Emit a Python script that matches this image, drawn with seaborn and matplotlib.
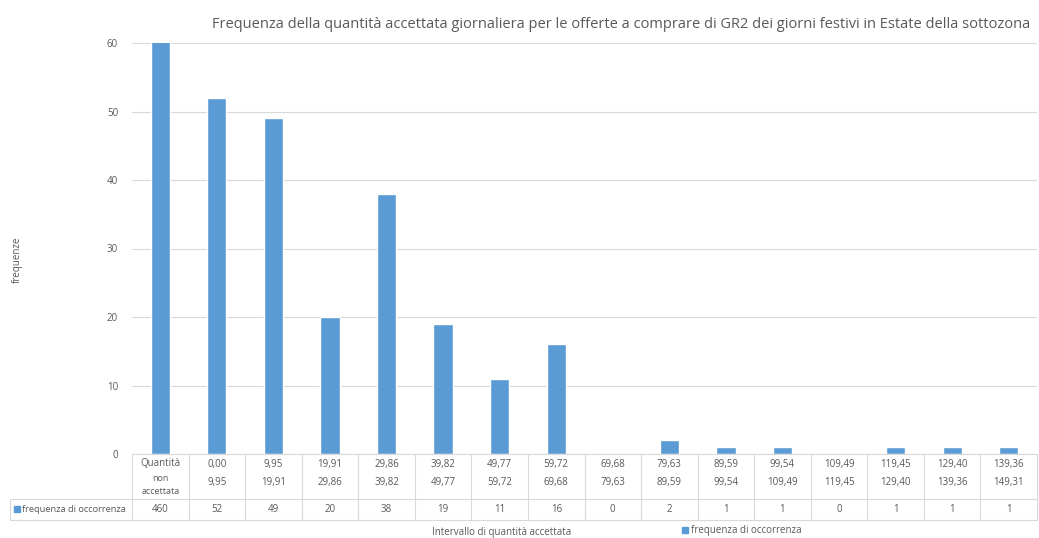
import matplotlib
matplotlib.use('Agg')
import matplotlib.pyplot as plt
import matplotlib.transforms as mtransforms
from matplotlib.patches import Patch
import seaborn as sns
import pandas as pd

# Dati
inizio = ['Quantità', '0,00', '9,95', '19,91', '29,86', '39,82', '49,77', '59,72',
          '69,68', '79,63', '89,59', '99,54', '109,49', '119,45', '129,40', '139,36']
fine = ['non\naccettata', '9,95', '19,91', '29,86', '39,82', '49,77', '59,72', '69,68',
        '79,63', '89,59', '99,54', '109,49', '119,45', '129,40', '139,36', '149,31']
frequenza = [460, 52, 49, 20, 38, 19, 11, 16, 0, 2, 1, 1, 0, 1, 1, 1]

df = pd.DataFrame({'intervallo': [f'{a}-{b}' for a, b in zip(inizio, fine)],
                   'frequenza': frequenza})

sns.set_style('white')
plt.rcParams['font.family'] = ['Open Sans', 'DejaVu Sans']

grigio = '#595959'
linea = '#D9D9D9'
blu = '#5B9BD5'

W, H = 1039, 538
fig = plt.figure(figsize=(W / 100, H / 100), dpi=100)
ax = fig.add_axes([132 / W, (H - 454) / H, (1037 - 132) / W, (454 - 43) / H])

sns.barplot(data=df, x='intervallo', y='frequenza', color=blu, width=0.34,
            saturation=1, ax=ax)
ax.set_ylim(0, 60)
ax.set_xlim(-0.5, len(frequenza) - 0.5)
ax.set_yticks(range(0, 61, 10))
ax.yaxis.grid(True, color=linea, lw=0.8)
ax.set_axisbelow(True)
for s in ['top', 'right', 'left']:
    ax.spines[s].set_visible(False)
ax.spines['bottom'].set_color(linea)
ax.set_xticks([])
ax.set_xlabel('')
ax.set_ylabel('')
ax.tick_params(axis='y', length=0, labelsize=7, labelcolor=grigio, pad=10)

# Tabella dati sotto il grafico
tr = mtransforms.blended_transform_factory(ax.transData, fig.transFigure)
def fy(p):
    return (H - p) / H

n = len(frequenza)
for i in range(n + 1):
    ax.plot([i - 0.5, i - 0.5], [fy(454), fy(520)], color=linea, lw=0.8,
            transform=tr, clip_on=False)
figtr = fig.transFigure
for yy in [499, 520]:
    fig.add_artist(plt.Line2D([10 / W, 1037 / W], [fy(yy), fy(yy)], color=linea, lw=0.8,
                              transform=figtr))
fig.add_artist(plt.Line2D([10 / W, 10 / W], [fy(499), fy(520)], color=linea, lw=0.8,
                          transform=figtr))

for i in range(n):
    if i == 0:
        ax.text(i, fy(464), inizio[i], transform=tr, ha='center', va='center',
                fontsize=7, color=grigio)
        ax.text(i, fy(485), fine[i], transform=tr, ha='center', va='center',
                fontsize=6.5, color=grigio, linespacing=1.6)
    else:
        ax.text(i, fy(464), inizio[i], transform=tr, ha='center', va='center',
                fontsize=7, color=grigio)
        ax.text(i, fy(483), fine[i], transform=tr, ha='center', va='center',
                fontsize=7, color=grigio)
    ax.text(i, fy(509), str(frequenza[i]), transform=tr, ha='center', va='center',
            fontsize=7, color=grigio)

fig.add_artist(plt.Rectangle((14 / W, fy(512)), 6 / W, 6 / H, color=blu, transform=figtr))
fig.text(22 / W, fy(509), 'frequenza di occorrenza', ha='left', va='center',
         fontsize=6.7, color=grigio)

# Titoli ed etichette
fig.text(1030 / W, fy(25), 'Frequenza della quantità accettata giornaliera per le offerte a comprare '
         'di GR2 dei giorni festivi in Estate della sottozona', ha='right', va='center',
         fontsize=10.5, color=grigio)
fig.text(17 / W, fy(260), 'frequenze', rotation=90, ha='center', va='center',
         fontsize=7, color=grigio)
fig.text(502 / W, fy(533), 'Intervallo di quantità accettata', ha='center', va='center',
         fontsize=7, color=grigio)

leg = fig.legend(handles=[Patch(color=blu, label='frequenza di occorrenza')],
                 loc='center', bbox_to_anchor=(742 / W, fy(531)), frameon=False,
                 fontsize=7, handlelength=0.6, handleheight=0.6, handletextpad=0.3,
                 labelcolor=grigio)

fig.savefig('out.png', dpi=100)
